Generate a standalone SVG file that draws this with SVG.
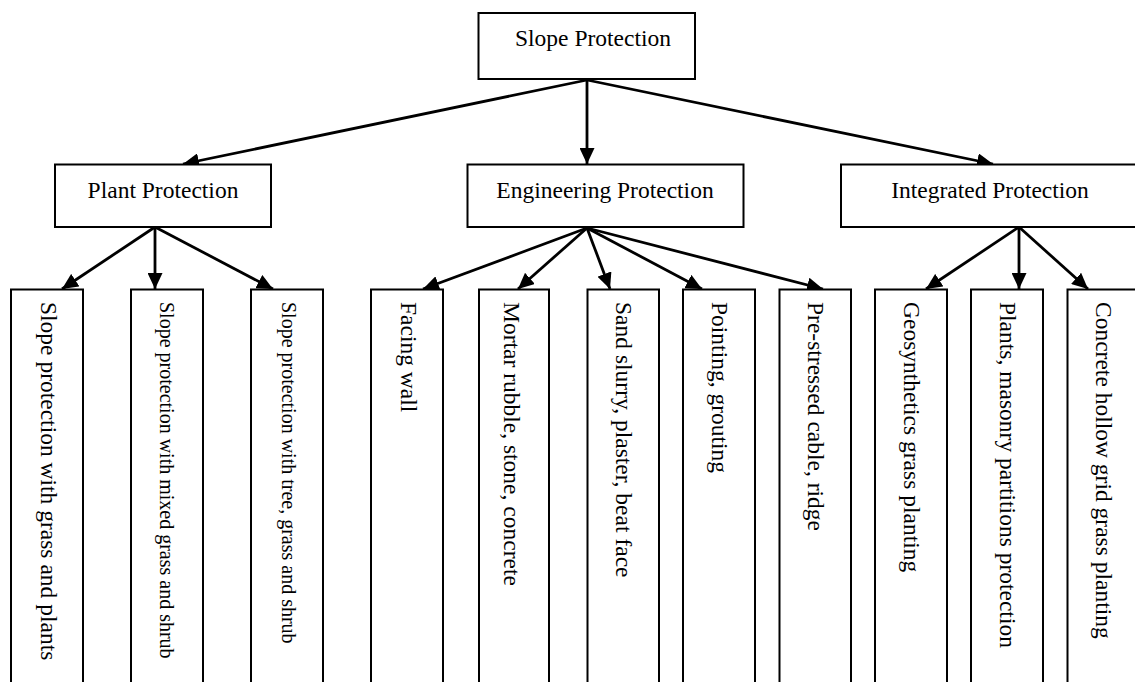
<svg xmlns="http://www.w3.org/2000/svg" width="1135" height="682" viewBox="0 0 1135 682">
<style>
.box{fill:#fff;stroke:#000;stroke-width:2}
.t{font-family:"Liberation Serif","Times New Roman",serif;font-size:23.5px;fill:#000}
.s{font-size:20px}
.c{text-anchor:middle}
.ln{stroke:#000;stroke-width:2.8;fill:none;marker-end:url(#ah)}
</style>
<defs>
<marker id="ah" markerUnits="userSpaceOnUse" markerWidth="17" markerHeight="15" refX="16" refY="7.5" orient="auto">
<path d="M0,0 L16,7.5 L0,15 z" fill="#000"/>
</marker>
</defs>
<rect width="1135" height="682" fill="#fff"/>
<g id="connectors">
<line class="ln" x1="587" y1="80" x2="183" y2="164"/>
<line class="ln" x1="587" y1="80" x2="587" y2="164"/>
<line class="ln" x1="587" y1="80" x2="993" y2="164"/>
<line class="ln" x1="155" y1="227" x2="62" y2="289"/>
<line class="ln" x1="155" y1="227" x2="155" y2="289"/>
<line class="ln" x1="155" y1="227" x2="273" y2="289"/>
<line class="ln" x1="587" y1="228" x2="423" y2="289"/>
<line class="ln" x1="587" y1="228" x2="518" y2="289"/>
<line class="ln" x1="587" y1="228" x2="610" y2="289"/>
<line class="ln" x1="587" y1="228" x2="702" y2="289"/>
<line class="ln" x1="587" y1="228" x2="823" y2="289"/>
<line class="ln" x1="1019" y1="227" x2="926" y2="289"/>
<line class="ln" x1="1019" y1="227" x2="1019" y2="289"/>
<line class="ln" x1="1019" y1="227" x2="1088" y2="289"/>
</g>
<g id="root"><rect class="box" x="478.5" y="13" width="216.5" height="66"/><text class="t c" x="593" y="46">Slope Protection</text></g>
<g id="plant"><rect class="box" x="55" y="164.5" width="216" height="62.5"/><text class="t c" x="163" y="198">Plant Protection</text></g>
<g id="engineering"><rect class="box" x="467.5" y="164.5" width="276" height="62.5"/><text class="t c" x="605" y="198">Engineering Protection</text></g>
<g id="integrated"><rect class="box" x="841" y="164.5" width="360" height="62.5"/><text class="t c" x="990" y="198">Integrated Protection</text></g>
<g id="leaf1"><rect class="box" x="11" y="289.5" width="72" height="420"/><text class="t" transform="translate(41,302) rotate(90)">Slope protection with grass and plants</text></g>
<g id="leaf2"><rect class="box" x="131" y="289.5" width="72" height="420"/><text class="t s" transform="translate(160,302) rotate(90)">Slope protection with mixed grass and shrub</text></g>
<g id="leaf3"><rect class="box" x="251" y="289.5" width="72" height="420"/><text class="t s" transform="translate(282,302) rotate(90)">Slope protection with tree, grass and shrub</text></g>
<g id="leaf4"><rect class="box" x="371" y="289.5" width="72" height="420"/><text class="t" transform="translate(401,302) rotate(90)">Facing wall</text></g>
<g id="leaf5"><rect class="box" x="479" y="289.5" width="70" height="420"/><text class="t" transform="translate(504,302) rotate(90)">Mortar rubble, stone, concrete</text></g>
<g id="leaf6"><rect class="box" x="587.5" y="289.5" width="71.5" height="420"/><text class="t" transform="translate(616,302) rotate(90)">Sand slurry, plaster, beat face</text></g>
<g id="leaf7"><rect class="box" x="683" y="289.5" width="72" height="420"/><text class="t" transform="translate(712,302) rotate(90)">Pointing, grouting</text></g>
<g id="leaf8"><rect class="box" x="779.5" y="289.5" width="71.5" height="420"/><text class="t" transform="translate(808,302) rotate(90)">Pre-stressed cable, ridge</text></g>
<g id="leaf9"><rect class="box" x="875" y="289.5" width="72" height="420"/><text class="t" transform="translate(904,302) rotate(90)">Geosynthetics grass planting</text></g>
<g id="leaf10"><rect class="box" x="971" y="289.5" width="72" height="420"/><text class="t" transform="translate(1000,302) rotate(90)">Plants, masonry partitions protection</text></g>
<g id="leaf11"><rect class="box" x="1067.5" y="289.5" width="80" height="420"/><text class="t" transform="translate(1096,302) rotate(90)">Concrete hollow grid grass planting</text></g>
</svg>
